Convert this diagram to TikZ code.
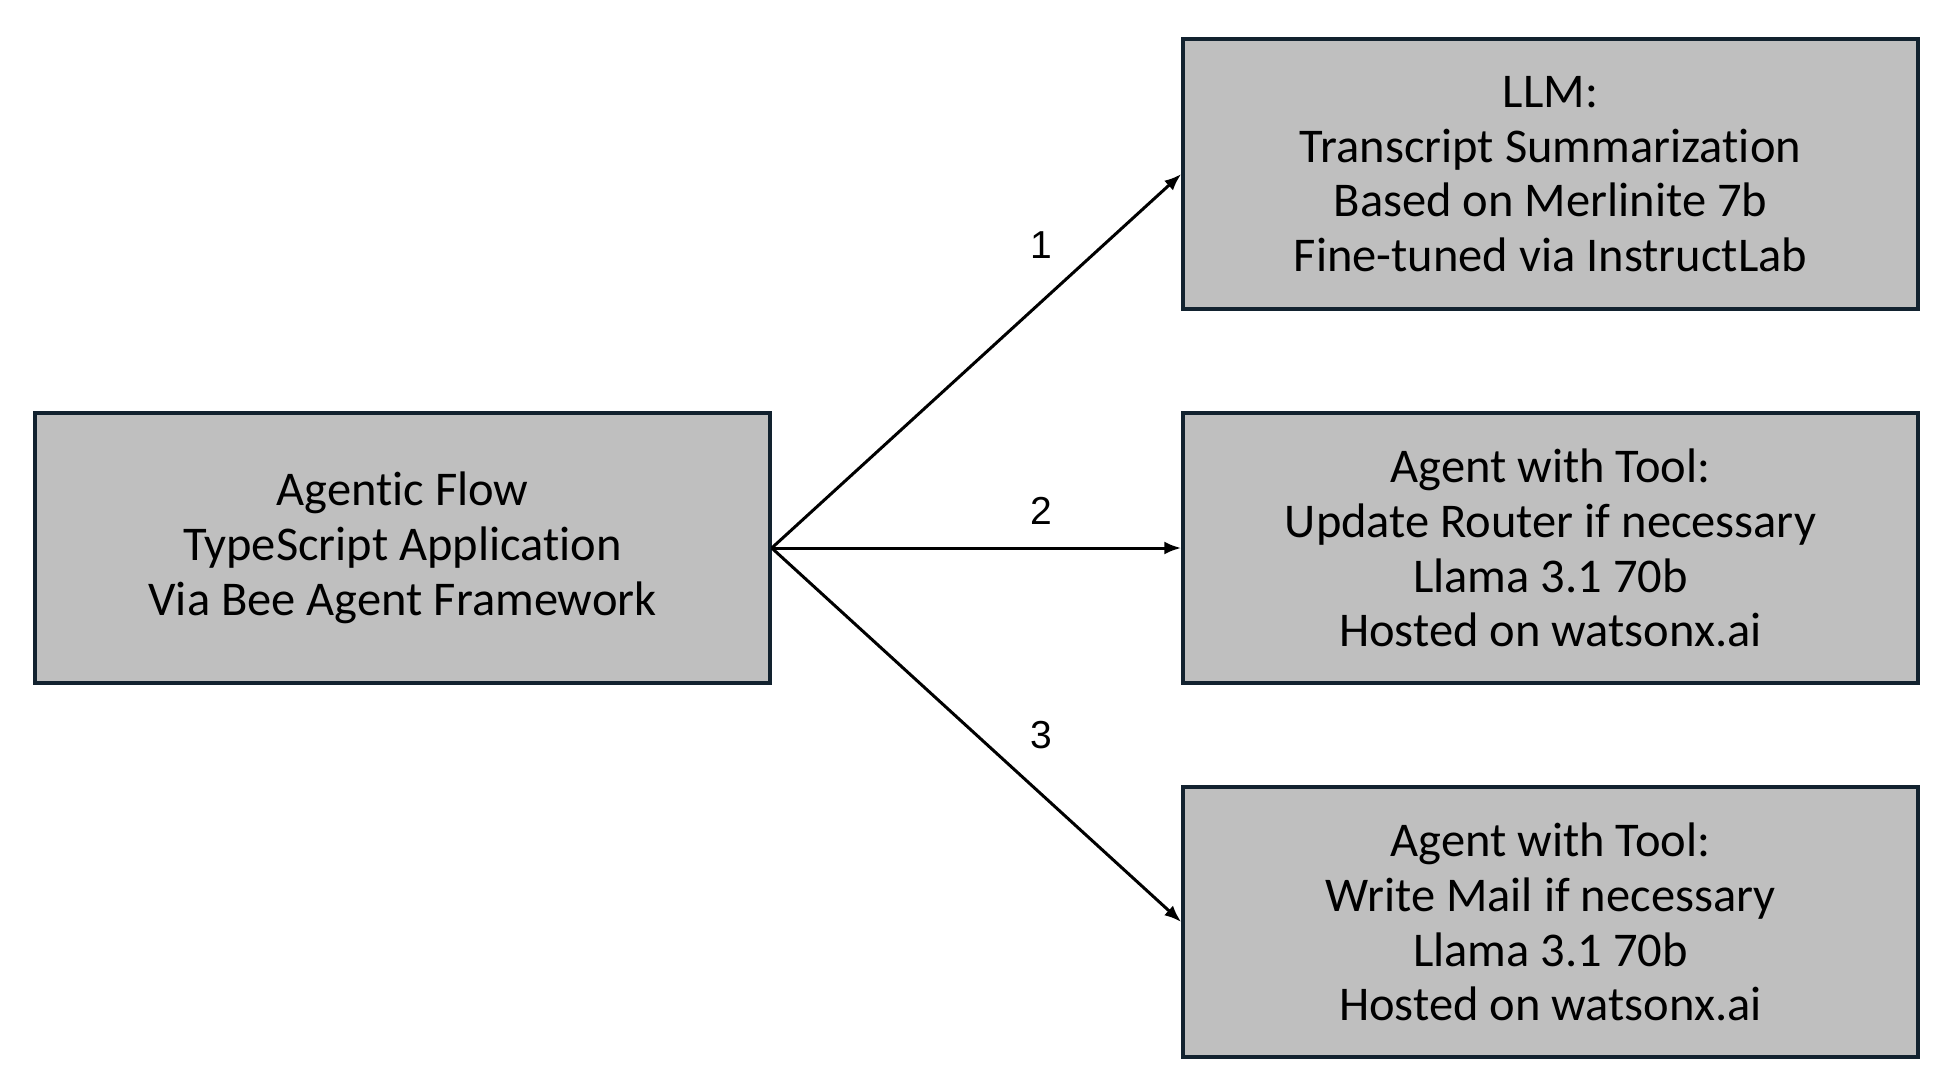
\documentclass[tikz,border=0pt]{standalone}
\usepackage{fontspec}
\setmainfont[Ligatures=NoCommon]{Carlito}
\newfontfamily\labelfont{Liberation Sans}
\usetikzlibrary{arrows.meta}
\definecolor{boxline}{HTML}{12222F}
\definecolor{boxfill}{HTML}{BFBFBF}
\begin{document}
\begin{tikzpicture}[x=1pt,y=-1pt,
  box/.style={draw=boxline, line width=3.5pt, fill=boxfill, minimum width=735pt, minimum height=270pt, inner sep=0pt, align=center, font=\fontsize{48.5}{54.7}\selectfont},
  conn/.style={line width=3pt, -{Latex[length=17pt,width=13pt]}},
  num/.style={font=\labelfont\fontsize{39}{44}\selectfont, inner sep=0pt}]
\useasboundingbox (0,0) rectangle (1948,1084);
\node[box] (src) at (402.5,548) {Agentic Flow\\TypeScript Application\\Via Bee Agent Framework};
\node[box] (llm) at (1550.5,174) {LLM:\\Transcript Summarization\\Based on Merlinite 7b\\Fine-tuned via InstructLab};
\node[box] (router) at (1550.5,548) {Agent with Tool:\\Update Router if necessary\\Llama 3.1 70b\\Hosted on watsonx.ai};
\node[box] (mail) at (1550.5,922) {Agent with Tool:\\Write Mail if necessary\\Llama 3.1 70b\\Hosted on watsonx.ai};
\draw[conn] (src.east) -- (llm.west);
\draw[conn] (src.east) -- (router.west);
\draw[conn] (src.east) -- (mail.west);
\node[num] (n1) at (1041,245) {1};
\node[num] (n2) at (1041,511) {2};
\node[num] (n3) at (1041,735) {3};
\end{tikzpicture}
\end{document}
